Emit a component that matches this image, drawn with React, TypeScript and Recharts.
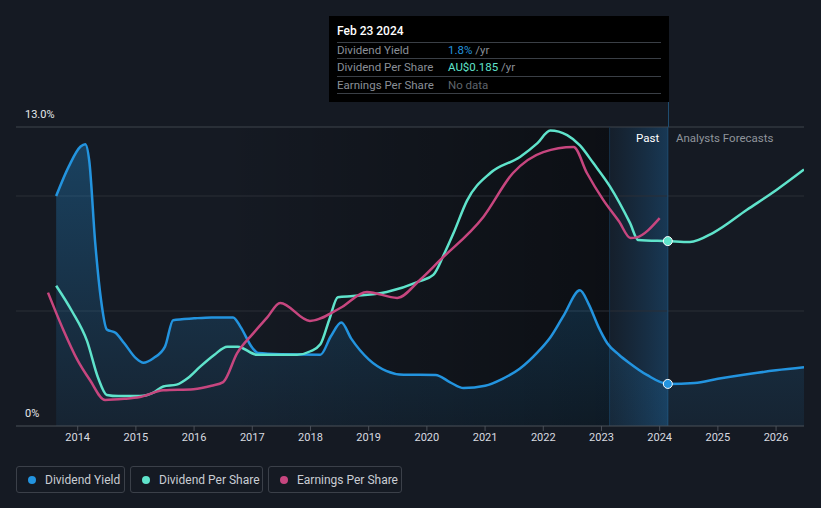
import React from 'react';
import {
  ComposedChart,
  Area,
  Line,
  XAxis,
  YAxis,
  ReferenceLine,
  ReferenceArea,
  ReferenceDot,
} from 'recharts';

// ---- data (year, value on the chart's 0–13 scale) ----
const yearTicks = [2014, 2015, 2016, 2017, 2018, 2019, 2020, 2021, 2022, 2023, 2024, 2025, 2026];
const yTickValues = [0, 13];
const yTickLabels: Record<number, string> = { 0: '0%', 13: '13.0%' };
const gridValues = [5, 10, 13];
const xDomain: [number, number] = [2012.94, 2026.48];
const yDomain: [number, number] = [0, 13];
const todayX = 2024.14;
const pastStartX = 2023.14;
const shadeStartX = 2016.5;

const dividendYieldPts: [number, number][] = [
  [2013.63, 10.0], [2013.85, 11.3], [2014.05, 12.15], [2014.13, 12.25], [2014.2, 11.5],
  [2014.3, 8.0], [2014.4, 5.5], [2014.5, 4.2], [2014.65, 4.05], [2014.8, 3.6],
  [2015.0, 2.95], [2015.13, 2.75], [2015.3, 2.95], [2015.5, 3.45], [2015.64, 4.6],
  [2016.0, 4.68], [2016.3, 4.72], [2016.67, 4.72], [2016.8, 4.3], [2017.0, 3.4],
  [2017.1, 3.17], [2017.5, 3.12], [2018.17, 3.1], [2018.35, 3.9], [2018.53, 4.5],
  [2018.7, 3.8], [2019.0, 2.9], [2019.3, 2.4], [2019.6, 2.23], [2020.15, 2.22],
  [2020.4, 1.9], [2020.63, 1.65], [2021.0, 1.75], [2021.3, 2.05], [2021.6, 2.5],
  [2021.9, 3.2], [2022.12, 3.85], [2022.35, 4.8], [2022.63, 5.9], [2022.78, 5.3],
  [2022.95, 4.3], [2023.1, 3.6], [2023.3, 3.1], [2023.49, 2.72], [2023.78, 2.22],
  [2024.14, 1.83], [2024.6, 1.87], [2025.0, 2.05], [2025.5, 2.25], [2026.0, 2.42],
  [2026.48, 2.55],
];

const dividendPerSharePts: [number, number][] = [
  [2013.63, 6.1], [2013.9, 5.0], [2014.16, 3.7], [2014.35, 2.1], [2014.5, 1.35],
  [2014.7, 1.3], [2015.07, 1.3], [2015.3, 1.45], [2015.47, 1.72], [2015.7, 1.8],
  [2015.9, 2.1], [2016.1, 2.57], [2016.35, 3.1], [2016.57, 3.45], [2016.75, 3.45],
  [2017.08, 3.1], [2017.77, 3.1], [2018.0, 3.25], [2018.17, 3.55], [2018.32, 4.6],
  [2018.47, 5.6], [2018.73, 5.65], [2019.31, 5.83], [2019.88, 6.3], [2020.11, 6.57],
  [2020.3, 7.5], [2020.46, 8.4], [2020.69, 9.8], [2021.09, 11.0], [2021.6, 11.7],
  [2021.9, 12.3], [2022.12, 12.85], [2022.41, 12.65], [2022.63, 12.2], [2022.86, 11.43],
  [2023.15, 10.4], [2023.49, 8.83], [2023.63, 8.09], [2024.14, 8.04], [2024.52, 8.0],
  [2024.92, 8.4], [2025.5, 9.4], [2026.0, 10.25], [2026.48, 11.15],
];

const earningsPerSharePts: [number, number][] = [
  [2013.49, 5.8], [2013.75, 4.2], [2013.99, 2.9], [2014.21, 2.0], [2014.47, 1.13],
  [2014.8, 1.18], [2015.07, 1.26], [2015.47, 1.55], [2015.99, 1.6], [2016.3, 1.75],
  [2016.5, 1.91], [2016.74, 3.17], [2017.02, 4.04], [2017.25, 4.7], [2017.48, 5.35],
  [2017.99, 4.57], [2018.51, 5.13], [2018.97, 5.83], [2019.49, 5.57], [2019.88, 6.35],
  [2020.23, 7.22], [2020.97, 9.09], [2021.48, 11.0], [2022.0, 11.91], [2022.52, 12.13],
  [2022.75, 11.0], [2023.03, 9.83], [2023.3, 8.9], [2023.5, 8.17], [2023.6, 8.2],
  [2024.0, 9.04],
];

const todayYield = 1.83;
const todayDps = 8.04;

const toRows = (pts: [number, number][]) => pts.map(([x, v]) => ({ x, v }));
const yieldData = toRows(dividendYieldPts);
const dpsData = toRows(dividendPerSharePts);
const epsData = toRows(earningsPerSharePts);

const BLUE = '#2394df';
const TEAL = '#5fe3cb';
const PINK = '#c7467f';
const BG = '#151a23';
const FONT = 'Roboto, "Noto Sans", sans-serif';

const legendItems = [
  { label: 'Dividend Yield', color: BLUE, width: 109 },
  { label: 'Dividend Per Share', color: TEAL, width: 133 },
  { label: 'Earnings Per Share', color: PINK, width: 134 },
];

const tooltipRows = [
  { k: 'Dividend Yield', v: '1.8%', c: BLUE, u: ' /yr', h: 15 },
  { k: 'Dividend Per Share', v: 'AU$0.185', c: TEAL, u: ' /yr', h: 17 },
  { k: 'Earnings Per Share', v: 'No data', c: '#5f646b', u: '', h: 16 },
];

const renderYTick = (props: any) => {
  const { y, payload } = props;
  return (
    <text x={25} y={y - 9} fill="#e6e8eb" fontSize={11} fontFamily={FONT} textAnchor="start">
      {yTickLabels[payload.value] ?? ''}
    </text>
  );
};

export default function App() {
  return (
    <div
      style={{
        position: 'absolute',
        left: 0,
        top: 0,
        width: 821,
        height: 508,
        background: BG,
        overflow: 'hidden',
        fontFamily: FONT,
      }}
    >
      <ComposedChart
        width={821}
        height={508}
        margin={{ top: 127, right: 17, bottom: 52, left: 15 }}
        style={{ overflow: 'visible' }}
      >
        <defs>
          <linearGradient id="yieldFill" x1="0" y1="0" x2="0" y2="1">
            <stop offset="0%" stopColor="#2394df" stopOpacity={0.32} />
            <stop offset="100%" stopColor="#2394df" stopOpacity={0.08} />
          </linearGradient>
          <linearGradient id="darkShade" x1="0" y1="0" x2="1" y2="0">
            <stop offset="0%" stopColor="#000000" stopOpacity={0} />
            <stop offset="100%" stopColor="#000000" stopOpacity={0.42} />
          </linearGradient>
          <linearGradient id="pastShade" x1="0" y1="0" x2="1" y2="0">
            <stop offset="0%" stopColor="#1a5a8c" stopOpacity={0.08} />
            <stop offset="100%" stopColor="#1e6aa6" stopOpacity={0.38} />
          </linearGradient>
        </defs>
        <XAxis
          type="number"
          dataKey="x"
          domain={xDomain}
          ticks={yearTicks}
          allowDataOverflow
          height={30}
          tickSize={5}
          axisLine={{ stroke: '#4b5059' }}
          tickLine={{ stroke: '#4b5059' }}
          tick={{ fill: '#d8dbe0', fontSize: 11, fontFamily: FONT }}
        />
        <YAxis
          type="number"
          domain={yDomain}
          ticks={yTickValues}
          width={1}
          axisLine={false}
          tickLine={false}
          tick={renderYTick}
          interval={0}
        />
        <ReferenceArea
          x1={shadeStartX}
          x2={pastStartX}
          y1={0}
          y2={13}
          fill="url(#darkShade)"
          stroke="none"
          fillOpacity={1}
          zIndex={-60}
        />
        <ReferenceArea
          x1={pastStartX}
          x2={todayX}
          y1={0}
          y2={13}
          fill="url(#pastShade)"
          stroke="none"
          fillOpacity={1}
          zIndex={-60}
        />
        {gridValues.map((g) => (
          <ReferenceLine
            key={g}
            y={g}
            stroke={g === 13 ? '#3f444c' : '#2a2f37'}
            strokeWidth={1}
            zIndex={-50}
          />
        ))}
        <ReferenceLine x={pastStartX} stroke="#17324a" strokeWidth={1} zIndex={-50} />
        <ReferenceLine x={todayX} stroke="#1f4d70" strokeWidth={1} zIndex={-50} />
        <Area
          data={yieldData}
          dataKey="v"
          type="monotone"
          stroke={BLUE}
          strokeWidth={2.5}
          fill="url(#yieldFill)"
          fillOpacity={1}
          dot={false}
          activeDot={false}
          isAnimationActive={false}
        />
        <Line
          data={dpsData}
          dataKey="v"
          type="monotone"
          stroke={TEAL}
          strokeWidth={2.5}
          dot={false}
          activeDot={false}
          isAnimationActive={false}
        />
        <Line
          data={epsData}
          dataKey="v"
          type="monotone"
          stroke={PINK}
          strokeWidth={2.5}
          dot={false}
          activeDot={false}
          isAnimationActive={false}
        />
        <ReferenceDot x={todayX} y={todayDps} r={4.5} fill={TEAL} stroke="#ffffff" strokeWidth={1} />
        <ReferenceDot x={todayX} y={todayYield} r={4.5} fill={BLUE} stroke="#ffffff" strokeWidth={1} />
      </ComposedChart>

      {/* line above plot connecting to tooltip */}
      <div style={{ position: 'absolute', left: 668, top: 100, width: 1, height: 27, background: '#1f4d70' }} />

      {/* Past / Analysts Forecasts labels */}
      <div style={{ position: 'absolute', left: 636, top: 131, fontSize: 11.5, color: '#ffffff' }}>Past</div>
      <div style={{ position: 'absolute', left: 676, top: 131, fontSize: 11.5, color: '#8f949b' }}>
        Analysts Forecasts
      </div>

      {/* tooltip box */}
      <div
        style={{
          position: 'absolute',
          left: 329,
          top: 16,
          width: 340,
          height: 86,
          background: '#000000',
          boxSizing: 'border-box',
          padding: '0 8px',
        }}
      >
        <div style={{ height: 26, lineHeight: '30px', color: '#ffffff', fontSize: 12, fontWeight: 500 }}>
          Feb 23 2024
        </div>
        {tooltipRows.map((r) => (
          <div
            key={r.k}
            style={{
              borderTop: '1px solid #3a3f46',
              height: r.h,
              lineHeight: `${r.h}px`,
              fontSize: 11.5,
              display: 'flex',
            }}
          >
            <span style={{ width: 111, color: '#8a8f97' }}>{r.k}</span>
            <span style={{ color: r.c }}>{r.v}</span>
            <span style={{ color: '#8a8f97', whiteSpace: 'pre' }}>{r.u}</span>
          </div>
        ))}
        <div style={{ borderTop: '1px solid #3a3f46' }} />
      </div>

      {/* legend */}
      <div style={{ position: 'absolute', left: 16, top: 466, display: 'flex', gap: 5 }}>
        {legendItems.map((it) => (
          <div
            key={it.label}
            style={{
              width: it.width,
              height: 27,
              boxSizing: 'border-box',
              border: '1px solid #3b4049',
              borderRadius: 3,
              display: 'flex',
              alignItems: 'center',
              paddingLeft: 11,
              fontSize: 12,
              color: '#c9cdd3',
            }}
          >
            <span
              style={{
                width: 8,
                height: 8,
                borderRadius: 4,
                background: it.color,
                display: 'inline-block',
                marginRight: 9,
              }}
            />
            {it.label}
          </div>
        ))}
      </div>
    </div>
  );
}
